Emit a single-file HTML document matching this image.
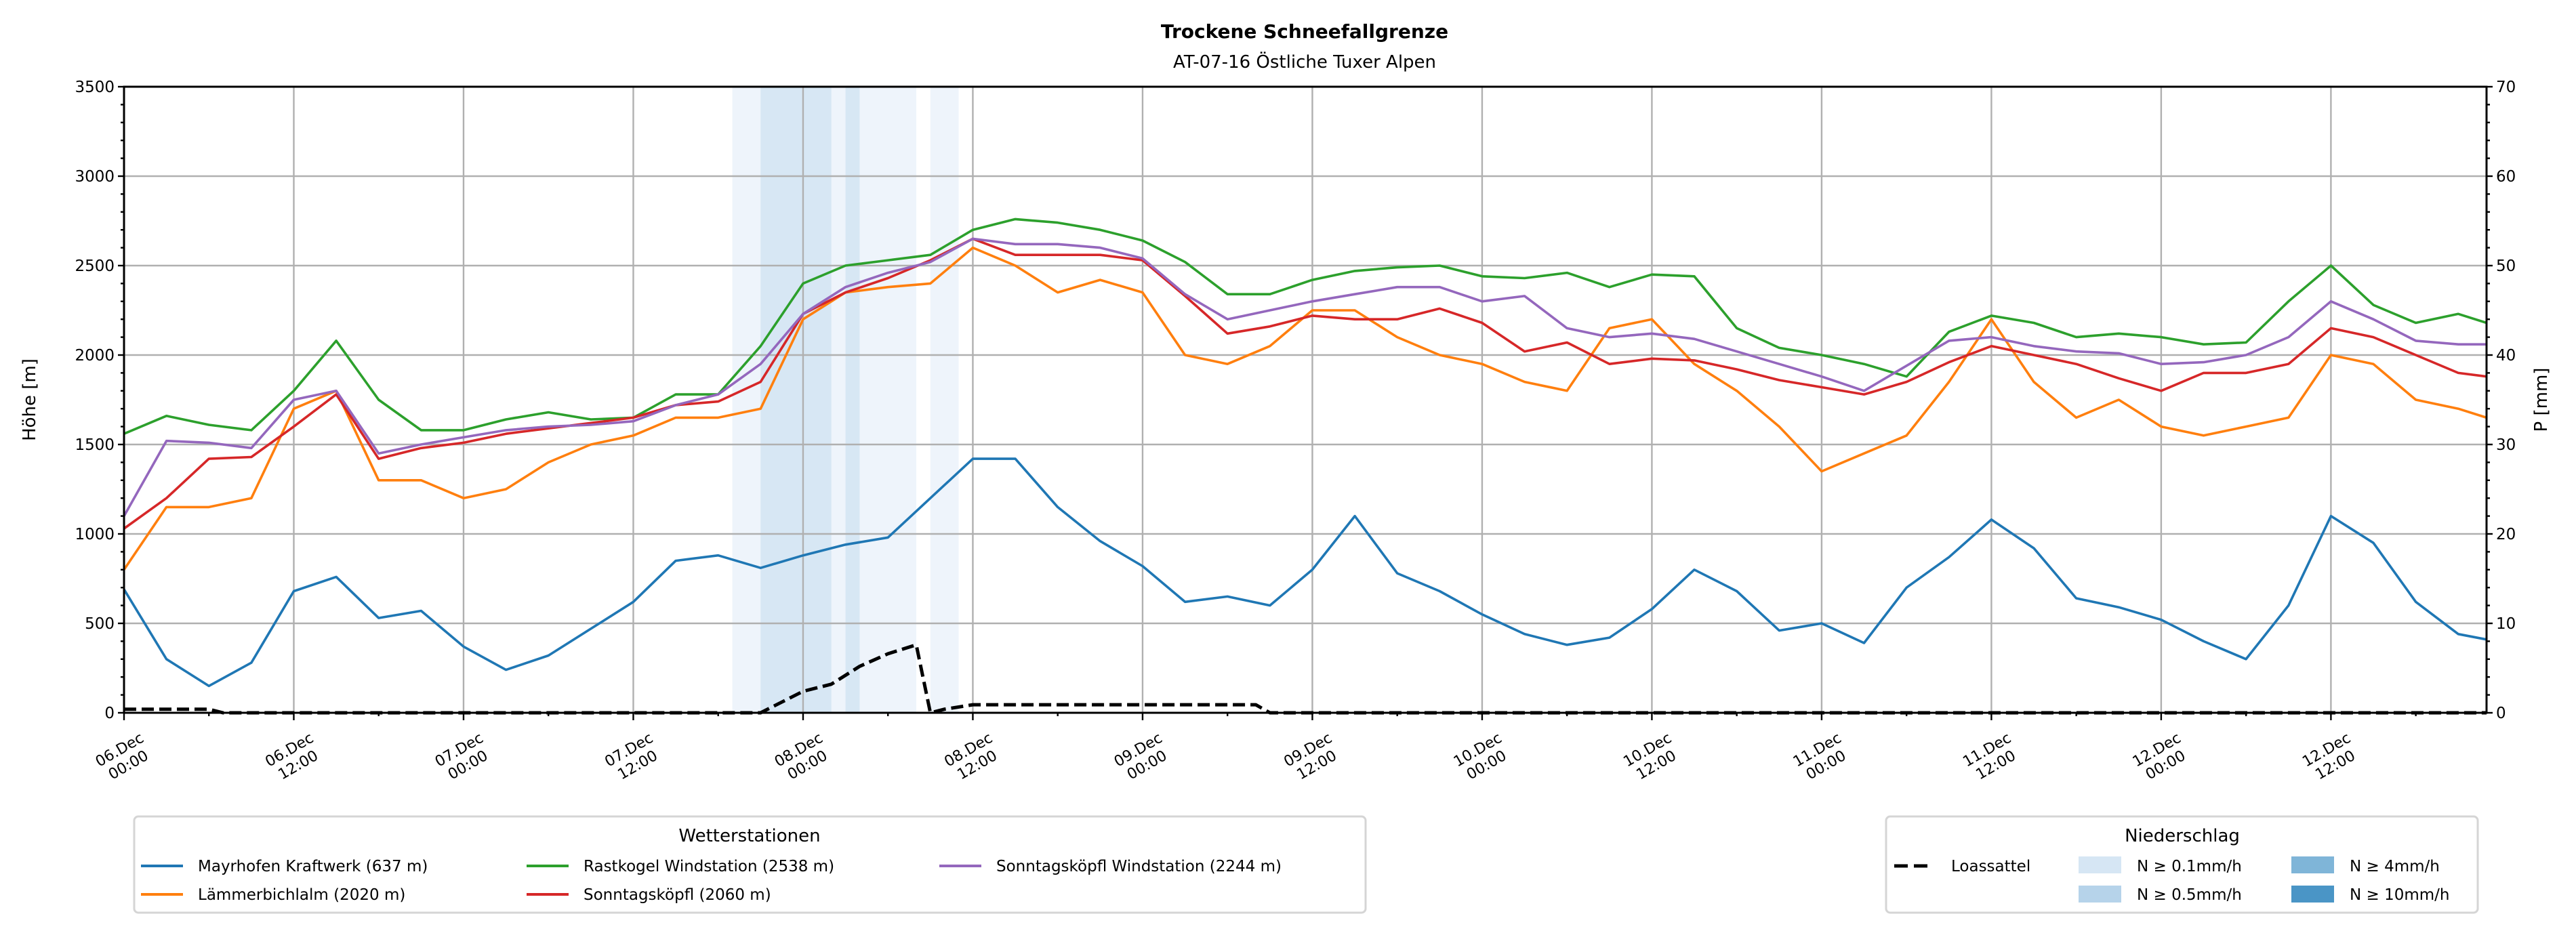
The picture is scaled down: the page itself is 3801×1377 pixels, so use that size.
<!DOCTYPE html>
<html><head><meta charset="utf-8"><style>
html,body{margin:0;padding:0;background:#fff;}
svg{display:block;font-family:"DejaVu Sans","Liberation Sans",sans-serif;}
</style></head><body>
<svg id="chart" width="3801" height="1377" viewBox="0 0 3801 1377" xmlns="http://www.w3.org/2000/svg">
<rect width="3801" height="1377" fill="#fff"/>
<text x="1925" y="56" text-anchor="middle" font-size="28" font-weight="bold">Trockene Schneefallgrenze</text>
<text x="1925" y="100" text-anchor="middle" font-size="26">AT-07-16 Östliche Tuxer Alpen</text>
<g id="bands"></g>
<g id="grid"></g>
<g id="series"></g>
<g id="axes"></g>
<text transform="translate(52,590) rotate(-90)" text-anchor="middle" font-size="26">Höhe [m]</text>
<text transform="translate(3758,590) rotate(-90)" text-anchor="middle" font-size="26">P [mm]</text>

<g>
<rect x="198" y="1205" width="1817" height="142" rx="6" fill="#fff" stroke="#d5d5d5" stroke-width="3"/>
<text x="1106" y="1242" text-anchor="middle" font-size="26">Wetterstationen</text>
<g><line x1="208" y1="1278" x2="270" y2="1278" stroke="#1f77b4" stroke-width="4"/><text x="292" y="1286" font-size="23">Mayrhofen Kraftwerk (637 m)</text></g>
<g><line x1="208" y1="1320" x2="270" y2="1320" stroke="#ff7f0e" stroke-width="4"/><text x="292" y="1328" font-size="23">Lämmerbichlalm (2020 m)</text></g>
<g><line x1="777" y1="1278" x2="839" y2="1278" stroke="#2ca02c" stroke-width="4"/><text x="861" y="1286" font-size="23">Rastkogel Windstation (2538 m)</text></g>
<g><line x1="777" y1="1320" x2="839" y2="1320" stroke="#d62728" stroke-width="4"/><text x="861" y="1328" font-size="23">Sonntagsköpfl (2060 m)</text></g>
<g><line x1="1386" y1="1278" x2="1448" y2="1278" stroke="#9467bd" stroke-width="4"/><text x="1470" y="1286" font-size="23">Sonntagsköpfl Windstation (2244 m)</text></g>
</g>

<g>
<rect x="2783" y="1205" width="873" height="142" rx="6" fill="#fff" stroke="#d5d5d5" stroke-width="3"/>
<text x="3220" y="1242" text-anchor="middle" font-size="26">Niederschlag</text>
<g><line x1="2795" y1="1278" x2="2852" y2="1278" stroke="#000" stroke-width="5" stroke-dasharray="20,9"/><text x="2879" y="1286" font-size="23">Loassattel</text></g>
<g><rect x="3067" y="1264" width="63" height="25" fill="#d6e6f4"/><text x="3153" y="1286" font-size="23">N ≥ 0.1mm/h</text></g>
<g><rect x="3067" y="1307" width="63" height="25" fill="#b6d3ea"/><text x="3153" y="1328" font-size="23">N ≥ 0.5mm/h</text></g>
<g><rect x="3381" y="1264" width="63" height="25" fill="#7fb5d8"/><text x="3467" y="1286" font-size="23">N ≥ 4mm/h</text></g>
<g><rect x="3381" y="1307" width="63" height="25" fill="#4a95c6"/><text x="3467" y="1328" font-size="23">N ≥ 10mm/h</text></g>
</g>
</svg>
<script>
const hours = [0,3,6,9,12,15,18,21,24,27,30,33,36,39,42,45,48,51,54,57,60,63,66,69,72,75,78,81,84,87,90,93,96,99,102,105,108,111,114,117,120,123,126,129,132,135,138,141,144,147,150,153,156,159,162,165,167];
const mayrhofen = [690,300,150,280,680,760,530,570,370,240,320,470,620,850,880,810,880,940,980,1200,1420,1420,1150,960,820,620,650,600,800,1100,780,680,550,440,380,420,580,800,680,460,500,390,700,870,1080,920,640,590,520,400,300,600,1100,950,620,440,410];
const laemmer = [800,1150,1150,1200,1700,1800,1300,1300,1200,1250,1400,1500,1550,1650,1650,1700,2200,2350,2380,2400,2600,2500,2350,2420,2350,2000,1950,2050,2250,2250,2100,2000,1950,1850,1800,2150,2200,1950,1800,1600,1350,1450,1550,1850,2200,1850,1650,1750,1600,1550,1600,1650,2000,1950,1750,1700,1650];
const rastkogel = [1560,1660,1610,1580,1800,2080,1750,1580,1580,1640,1680,1640,1650,1780,1780,2050,2400,2500,2530,2560,2700,2760,2740,2700,2640,2520,2340,2340,2420,2470,2490,2500,2440,2430,2460,2380,2450,2440,2150,2040,2000,1950,1880,2130,2220,2180,2100,2120,2100,2060,2070,2300,2500,2280,2180,2230,2180];
const sonntag = [1030,1200,1420,1430,1600,1780,1420,1480,1510,1560,1590,1620,1650,1720,1740,1850,2230,2350,2430,2530,2650,2560,2560,2560,2530,2330,2120,2160,2220,2200,2200,2260,2180,2020,2070,1950,1980,1970,1920,1860,1820,1780,1850,1960,2050,2000,1950,1870,1800,1900,1900,1950,2150,2100,2000,1900,1880];
const sonntagWind = [1100,1520,1510,1480,1750,1800,1450,1500,1540,1580,1600,1610,1630,1720,1780,1950,2230,2380,2460,2520,2650,2620,2620,2600,2540,2340,2200,2250,2300,2340,2380,2380,2300,2330,2150,2100,2120,2090,2020,1950,1880,1800,1940,2080,2100,2050,2020,2010,1950,1960,2000,2100,2300,2200,2080,2060,2060];
const loasHours = [0,6,7,44,45,48,50,52,54,56,57,58,60,80,81,167];
const loasMM = [0.4,0.4,0,0,0,2.4,3.2,5.2,6.6,7.6,0,0.4,0.9,0.9,0,0];
const bandStart = [43,57,45,51];
const bandEnd = [56,59,50,52];
const bandLevel = [0,0,1,1];
const yTicks = [0,500,1000,1500,2000,2500,3000,3500];
const y2Ticks = [0,10,20,30,40,50,60,70];
const xTickLabels = ["06.Dec\n00:00","06.Dec\n12:00","07.Dec\n00:00","07.Dec\n12:00","08.Dec\n00:00","08.Dec\n12:00","09.Dec\n00:00","09.Dec\n12:00","10.Dec\n00:00","10.Dec\n12:00","11.Dec\n00:00","11.Dec\n12:00","12.Dec\n00:00","12.Dec\n12:00"];

const L=183,R=3669,T=128,B=1052, HMAX=167, YMAX=3500, PMAX=70;
const X=h=>L+(R-L)*h/HMAX;
const Y=v=>B-(B-T)*v/YMAX;
const Y2=v=>B-(B-T)*v/PMAX;
const NS="http://www.w3.org/2000/svg";
function mk(tag,parent){const e=document.createElementNS(NS,tag);parent.appendChild(e);return e;}
const gB=document.getElementById('bands'),gG=document.getElementById('grid'),gS=document.getElementById('series'),gA=document.getElementById('axes');

const bandColors=['#eef4fb','#d7e7f4'];
for(let i=0;i<bandStart.length;i++){
  const r=mk('rect',gB);
  
  
  r.setAttribute('x',X(bandStart[i]));r.setAttribute('width',X(bandEnd[i])-X(bandStart[i]));
  r.setAttribute('y',T);r.setAttribute('height',B-T);r.setAttribute('fill',bandColors[bandLevel[i]]);
}
xTickLabels.forEach((lab,i)=>{
  const x=X(i*12);
  const l=mk('line',gG);
  
  
  l.setAttribute('x1',x);l.setAttribute('x2',x);l.setAttribute('y1',T);l.setAttribute('y2',B);l.setAttribute('stroke','#b0b0b0');l.setAttribute('stroke-width','2.4');
});
yTicks.forEach(v=>{
  const y=Y(v);
  const l=mk('line',gG);
  
  
  l.setAttribute('x1',L);l.setAttribute('x2',R);l.setAttribute('y1',y);l.setAttribute('y2',y);l.setAttribute('stroke','#b0b0b0');l.setAttribute('stroke-width','2.4');
});
function line(hs,vs,yf,color,name,dash){
  const p=mk('polyline',gS);
  
  
  p.setAttribute('points',hs.map((h,i)=>X(h).toFixed(1)+','+yf(vs[i]).toFixed(1)).join(' '));
  p.setAttribute('fill','none');p.setAttribute('stroke',color);p.setAttribute('stroke-width','3.6');p.setAttribute('stroke-linejoin','round');
  if(dash){p.setAttribute('stroke-dasharray',dash);p.setAttribute('stroke-width','5');}
}
line(hours,mayrhofen,Y,'#1f77b4','line-mayrhofen');
line(hours,laemmer,Y,'#ff7f0e','line-laemmerbichlalm');
line(hours,rastkogel,Y,'#2ca02c','line-rastkogel');
line(hours,sonntag,Y,'#d62728','line-sonntagskoepfl');
line(hours,sonntagWind,Y,'#9467bd','line-sonntagskoepfl-wind');
line(loasHours,loasMM,Y2,'#000','line-loassattel','18,8');
const fr=mk('rect',gA);


fr.setAttribute('x',L);fr.setAttribute('y',T);fr.setAttribute('width',R-L);fr.setAttribute('height',B-T);fr.setAttribute('fill','none');fr.setAttribute('stroke','#000');fr.setAttribute('stroke-width','3');
function tick(x1,y1,x2,y2){const l=mk('line',gA);l.setAttribute('x1',x1);l.setAttribute('y1',y1);l.setAttribute('x2',x2);l.setAttribute('y2',y2);l.setAttribute('stroke','#000');l.setAttribute('stroke-width','2.4');}
for(let v=0;v<=YMAX;v+=100){const y=Y(v);tick(L,y,L-(v%500?5:9),y);}
for(let v=0;v<=PMAX;v+=2){const y=Y2(v);tick(R,y,R+(v%10?5:9),y);}
for(let h=0;h<=HMAX;h+=6){const x=X(h);tick(x,B,x,B+(h%12?5:11));}
yTicks.forEach(v=>{const t=mk('text',gA);t.setAttribute('x',L-14);t.setAttribute('y',Y(v)+8);t.setAttribute('text-anchor','end');t.setAttribute('font-size','23');t.textContent=v;});
y2Ticks.forEach(v=>{const t=mk('text',gA);t.setAttribute('x',R+14);t.setAttribute('y',Y2(v)+8);t.setAttribute('font-size','23');t.textContent=v;});
xTickLabels.forEach((lab,i)=>{
  const g=mk('g',gA);
  
  
  g.setAttribute('transform','translate('+X(i*12)+','+(B+66)+') rotate(-30)');
  const parts=lab.split('\n');
  parts.forEach((s,j)=>{const t=mk('text',g);t.setAttribute('text-anchor','middle');t.setAttribute('font-size','22');t.setAttribute('y',j===0?-6:20);t.textContent=s;});
});
</script>
</body></html>
